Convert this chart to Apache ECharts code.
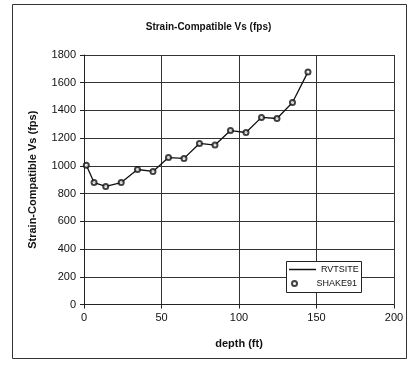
<!DOCTYPE html>
<html><head><meta charset="utf-8">
<script src="https://cdn.jsdelivr.net/npm/echarts@6/dist/echarts.min.js"></script>
<style>html,body{margin:0;padding:0;background:#fff}#c{width:417px;height:365px}</style>
</head><body><div id="c"></div>
<script>
const depths = [1.5, 6.5, 14, 24, 34.5, 44.5, 54.5, 64.5, 74.5, 84.5, 94.5, 104.5, 114.5, 124.5, 134.5, 144.5];
const vsRvt = [1005, 880, 852, 880, 974, 960, 1060, 1054, 1162, 1150, 1255, 1241, 1350, 1342, 1457, 1678];
const vsShake = [1005, 880, 852, 880, 974, 960, 1060, 1054, 1162, 1150, 1255, 1241, 1350, 1342, 1457, 1678];
const seriesNames = ['RVTSITE', 'SHAKE91'];
const titleText = 'Strain-Compatible Vs (fps)';
const xName = 'depth (ft)';
const yName = 'Strain-Compatible Vs (fps)';

const font = 'Liberation Sans, Arial, sans-serif';
const legendText = {fontFamily: font, fontSize: 9, color: '#111'};
const chart = echarts.init(document.getElementById('c'), null, {renderer: 'canvas'});
chart.setOption({
  animation: false,
  backgroundColor: '#fff',
  graphic: [
    {type: 'rect', shape: {x: 12.5, y: 4.5, width: 394, height: 354}, style: {fill: 'none', stroke: '#333', lineWidth: 1}, z: -1},
    {type: 'rect', shape: {x: 286.5, y: 261.5, width: 75, height: 31}, style: {fill: '#fff', stroke: '#222', lineWidth: 1}, z: 10}
  ],
  title: {text: titleText, left: 'center', top: 17, textStyle: {fontFamily: font, fontSize: 10, fontWeight: 'bold', color: '#111'}},
  grid: {left: 84, right: 23, top: 55, bottom: 60.5},
  legend: [
    {left: 289, top: 265, z: 11, itemWidth: 27, itemHeight: 1.5, itemGap: 2, padding: 0,
     textStyle: legendText, icon: 'rect', data: [seriesNames[0]]},
    {left: 291, top: 279, z: 11, itemWidth: 8, itemHeight: 5, padding: 0,
     textStyle: Object.assign({padding: [0, 0, 0, 13]}, legendText), data: [seriesNames[1]]}
  ],
  xAxis: {
    type: 'value', min: 0, max: 200, interval: 50,
    name: xName, nameLocation: 'middle', nameGap: 34,
    nameTextStyle: {fontFamily: font, fontSize: 11, fontWeight: 'bold', color: '#111'},
    axisLine: {show: true, lineStyle: {color: '#222', width: 1}},
    axisTick: {show: true, length: 4, lineStyle: {color: '#222'}},
    axisLabel: {fontFamily: font, fontSize: 11, color: '#111', margin: 8, formatter: v => String(v)},
    splitLine: {show: true, lineStyle: {color: '#333', width: 1}}
  },
  yAxis: {
    type: 'value', min: 0, max: 1800, interval: 200,
    name: yName, nameLocation: 'middle', nameGap: 46,
    nameTextStyle: {fontFamily: font, fontSize: 11, fontWeight: 'bold', color: '#111'},
    axisLine: {show: true, lineStyle: {color: '#222', width: 1}},
    axisTick: {show: true, length: 4, lineStyle: {color: '#222'}},
    axisLabel: {fontFamily: font, fontSize: 11, color: '#111', margin: 8, formatter: v => String(v)},
    splitLine: {show: true, lineStyle: {color: '#333', width: 1}}
  },
  series: [
    {name: seriesNames[0], type: 'line', data: depths.map((d, i) => [d, vsRvt[i]]), symbol: 'none',
     lineStyle: {color: '#111', width: 1.3}, itemStyle: {color: '#111'}, z: 3},
    {name: seriesNames[1], type: 'scatter', data: depths.map((d, i) => [d, vsShake[i]]), symbol: 'emptyCircle', symbolSize: 5,
     itemStyle: {color: '#111', borderWidth: 1.2}, z: 4}
  ]
});
</script></body></html>
